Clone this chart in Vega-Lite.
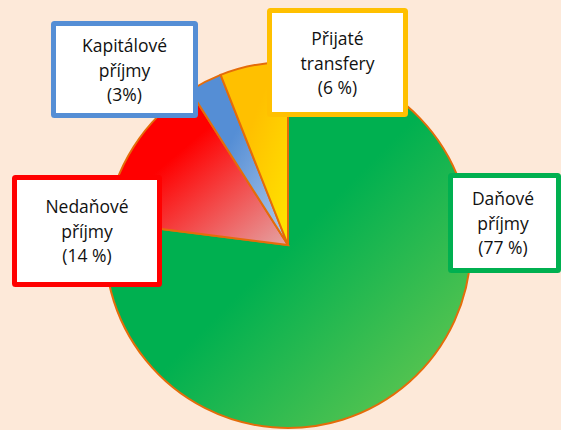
{
  "$schema": "https://vega.github.io/schema/vega-lite/v6.json",
  "autosize": "none",
  "width": 561,
  "height": 430,
  "padding": 0,
  "background": "#FDE9D9",
  "config": {"view": {"stroke": null}},
  "datasets": {
    "shares": [
      {"cat": "Daňové příjmy", "value": 77, "ord": 1},
      {"cat": "Nedaňové příjmy", "value": 14, "ord": 2},
      {"cat": "Kapitálové příjmy", "value": 3, "ord": 3},
      {"cat": "Přijaté transfery", "value": 6, "ord": 4}
    ],
    "labels": [
      {"cat": "Kapitálové příjmy", "text": "Kapitálové\npříjmy\n(3%)", "x1": 53.5, "x2": 195.5, "y1": 23.5, "y2": 115.5, "tx": 124.5, "ty": 47},
      {"cat": "Přijaté transfery", "text": "Přijaté\ntransfery\n(6 %)", "x1": 269.5, "x2": 405.5, "y1": 10.5, "y2": 114.5, "tx": 337.5, "ty": 40},
      {"cat": "Nedaňové příjmy", "text": "Nedaňové\npříjmy\n(14 %)", "x1": 14.5, "x2": 159.5, "y1": 177.5, "y2": 284.5, "tx": 87, "ty": 208},
      {"cat": "Daňové příjmy", "text": "Daňové\npříjmy\n(77 %)", "x1": 450.5, "x2": 558.5, "y1": 175.5, "y2": 270.5, "tx": 503, "ty": 200}
    ]
  },
  "layer": [
    {
      "data": {"name": "shares"},
      "mark": {"type": "arc", "radius": 183, "stroke": "#E46C0A", "strokeWidth": 2},
      "encoding": {
        "theta": {"field": "value", "type": "quantitative", "stack": true},
        "order": {"field": "ord", "type": "quantitative"},
        "x": {"datum": 288, "type": "quantitative", "scale": {"domain": [0, 561], "nice": false, "zero": false}, "axis": null},
        "y": {"datum": 245, "type": "quantitative", "scale": {"domain": [0, 430], "nice": false, "zero": false, "reverse": true}, "axis": null},
        "fill": {
          "condition": [
            {"test": "datum.cat === 'Daňové příjmy'", "value": {"gradient": "linear", "x1": 0, "y1": 0, "x2": 1, "y2": 1, "stops": [{"offset": 0, "color": "#00B050"}, {"offset": 0.5, "color": "#00B050"}, {"offset": 1, "color": "#72CA50"}]}},
            {"test": "datum.cat === 'Nedaňové příjmy'", "value": {"gradient": "linear", "x1": 0, "y1": 0, "x2": 1, "y2": 1, "stops": [{"offset": 0, "color": "#FF0000"}, {"offset": 0.4, "color": "#FF0000"}, {"offset": 1, "color": "#E4A4A4"}]}},
            {"test": "datum.cat === 'Kapitálové příjmy'", "value": {"gradient": "linear", "x1": 0, "y1": 0, "x2": 1, "y2": 1, "stops": [{"offset": 0, "color": "#558ED5"}, {"offset": 0.4, "color": "#558ED5"}, {"offset": 1, "color": "#B4CCEC"}]}}
          ],
          "value": {"gradient": "linear", "x1": 0, "y1": 0, "x2": 1, "y2": 1, "stops": [{"offset": 0, "color": "#FFC000"}, {"offset": 0.4, "color": "#FFC000"}, {"offset": 1, "color": "#FFE600"}]}
        }
      }
    },
    {
      "data": {"name": "labels"},
      "mark": {"type": "rect", "fill": "white", "strokeWidth": 5, "cornerRadius": 1},
      "encoding": {
        "x": {"field": "x1", "type": "quantitative"},
        "x2": {"field": "x2"},
        "y": {"field": "y1", "type": "quantitative"},
        "y2": {"field": "y2"},
        "stroke": {"field": "cat", "type": "nominal", "legend": null, "scale": {"domain": ["Kapitálové příjmy", "Přijaté transfery", "Nedaňové příjmy", "Daňové příjmy"], "range": ["#558ED5", "#FFC000", "#FF0000", "#00B050"]}}
      }
    },
    {
      "data": {"name": "labels"},
      "mark": {"type": "text", "font": "Open Sans", "fontSize": 17.5, "color": "#111111", "lineBreak": "\n", "lineHeight": 24.5, "baseline": "middle", "align": "center"},
      "encoding": {
        "x": {"field": "tx", "type": "quantitative"},
        "y": {"field": "ty", "type": "quantitative"},
        "text": {"field": "text"}
      }
    }
  ]
}
